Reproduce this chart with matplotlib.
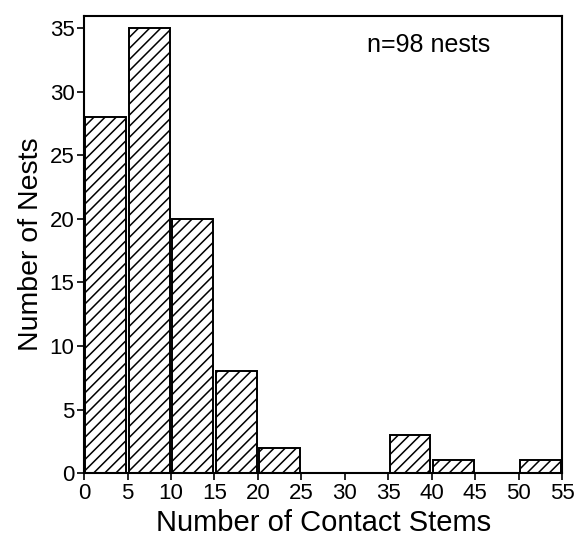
import matplotlib.pyplot as plt
import numpy as np

plt.rcParams['font.family'] = ['Liberation Sans', 'DejaVu Sans']
plt.rcParams['hatch.linewidth'] = 1.1

bin_left = [0, 5, 10, 15, 20, 25, 30, 35, 40, 45, 50]
nests = [28, 35, 20, 8, 2, 0, 0, 3, 1, 0, 1]
x_ticks = list(range(0, 60, 5))
y_ticks = list(range(0, 40, 5))

fig = plt.figure(figsize=(5.76, 5.44), dpi=100)
ax = fig.add_axes([0.146, 0.1305, 0.83, 0.8405])

left = np.array(bin_left) + 0.15
heights = np.array(nests)
shown = heights > 0
ax.bar(left[shown], heights[shown], width=4.7, align='edge', facecolor='white',
       edgecolor='black', linewidth=1.4, hatch='///')

ax.set_xlim(0, 55)
ax.set_ylim(0, 36)
ax.set_xticks(x_ticks)
ax.set_yticks(y_ticks)
ax.tick_params(direction='out', length=5, width=1.2, labelsize=16, pad=2)
for s in ax.spines.values():
    s.set_linewidth(1.5)

ax.set_xlabel('Number of Contact Stems', fontsize=21, labelpad=4)
ax.set_ylabel('Number of Nests', fontsize=20.5, labelpad=4)
ax.text(0.592, 0.937, 'n=98 nests', transform=ax.transAxes, fontsize=18,
        ha='left', va='center')

fig.savefig('out.png', dpi=100)
